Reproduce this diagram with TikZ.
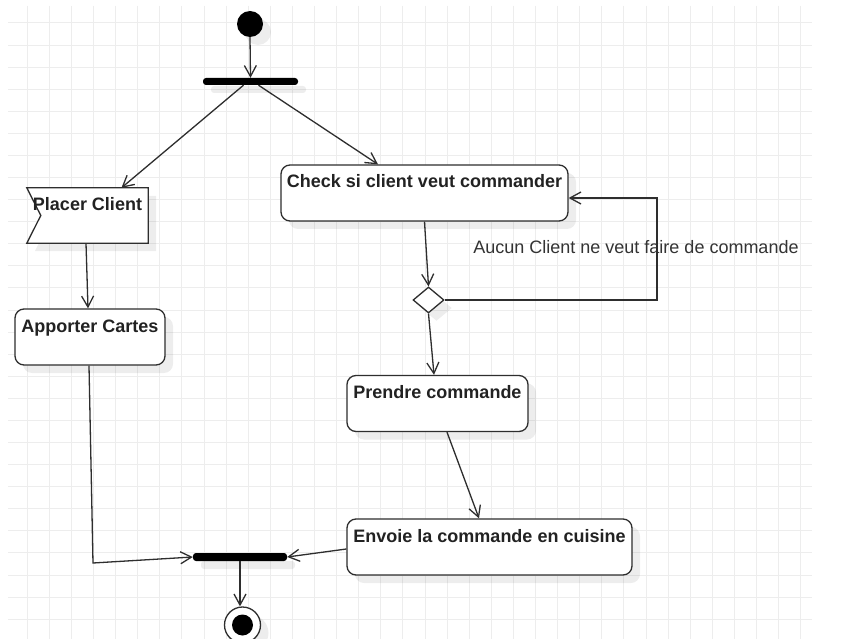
\documentclass[tikz,border=0pt]{standalone}
\usepackage{fontspec}
\setmainfont{Liberation Sans}
\usetikzlibrary{arrows.meta,shapes.geometric,shadows}
\definecolor{linec}{HTML}{2E2E2E}
\definecolor{gridc}{HTML}{EDEDED}
\definecolor{txtc}{HTML}{222222}
\definecolor{lblc}{HTML}{333333}
\pgfdeclarelayer{back}
\pgfsetlayers{back,main}
\begin{document}
\begin{tikzpicture}[x=1pt,y=-1pt,
  >={Straight Barb[length=11pt,width=12pt]},
  conn/.style={draw=linec, line width=1.3pt},
  gridline/.style={draw=gridc, line width=1pt},
  shad/.style={drop shadow={shadow xshift=8pt, shadow yshift=-8pt, fill=black, opacity=0.07}},
  boxfont/.style={font=\fontsize{18pt}{21pt}\selectfont\bfseries, text=txtc},
  act/.style={rectangle, draw=linec, line width=1.3pt, fill=white, rounded corners=9pt,
    inner sep=0pt, text height=23pt, text depth=33pt, boxfont, shad},
  sigtext/.style={rectangle, inner sep=0pt, text height=23pt, text depth=32pt, boxfont},
  bar/.style={rectangle, fill=black, inner sep=0pt, rounded corners=3pt, shad},
  lbl/.style={font=\fontsize{18pt}{21pt}\selectfont, text=lblc, inner sep=0pt}]
\useasboundingbox (0,0) rectangle (846,639);
\begin{pgfonlayer}{back}
  \fill[white] (0,0) rectangle (846,639);
  \foreach \k in {0,...,35} \draw[gridline] ({27.2+22.1*\k},6) -- ({27.2+22.1*\k},639);
  \foreach \k in {0,...,27} \draw[gridline] (8,{23+22.08*\k}) -- (812,{23+22.08*\k});
\end{pgfonlayer}

% nodes
\node[circle, fill=black, minimum size=26pt, inner sep=0pt, shad] (init) at (250,24) {};
\node[bar, minimum width=95pt, minimum height=7pt] (fork) at (250.5,81.5) {};
\node[sigtext, minimum width=121pt] (pc) at (87.5,215.5) {Placer Client};
\begin{pgfonlayer}{back}
  \fill[black, opacity=0.07] ([shift={(8pt,-8pt)}]pc.north west) -- ([shift={(8pt,-8pt)}]pc.north east)
     -- ([shift={(8pt,-8pt)}]pc.south east) -- ([shift={(8pt,-8pt)}]pc.south west)
     -- ([shift={(22pt,-8pt)}]pc.west) -- cycle;
  \filldraw[fill=white, draw=linec, line width=1.3pt, line join=miter]
     (pc.north west) -- (pc.north east) -- (pc.south east) -- (pc.south west)
     -- ([xshift=14pt]pc.west) -- cycle;
\end{pgfonlayer}
\node[act, minimum width=150pt] (ac) at (90,337) {Apporter Cartes};
\node[act, minimum width=287pt] (chk) at (424.5,193) {Check si client veut commander};
\node[diamond, draw=linec, line width=1.3pt, fill=white, minimum width=31pt, minimum height=26pt, inner sep=0pt, shad] (dia) at (428.5,300) {};
\node[act, minimum width=181pt] (pr) at (437.5,403.5) {Prendre commande};
\node[act, minimum width=285pt] (env) at (489.5,547) {Envoie la commande en cuisine};
\node[bar, minimum width=94pt, minimum height=8pt] (join) at (240,557) {};
\node[circle, draw=linec, line width=1.3pt, fill=white, minimum size=36pt, inner sep=0pt, shad] (fin) at (242.5,625) {};
\node[circle, fill=black, minimum size=21pt, inner sep=0pt] (fincore) at (fin.center) {};
\node[lbl, anchor=base] (cond) at (636,253) {Aucun Client ne veut faire de commande};

\coordinate (bend) at (93,563);
\coordinate (loop) at (657,198);

% connectors
\draw[conn,->] (init.south) -- (fork.north);
\draw[conn,->] ([xshift=-7pt]fork.south) -- ([xshift=34pt]pc.north);
\draw[conn,->] ([xshift=8pt]fork.south) -- ([xshift=-46.5pt]chk.north);
\draw[conn,->] ([xshift=-1.5pt]pc.south) -- ([xshift=-2pt]ac.north);
\draw[conn,->] ([xshift=-1pt]ac.south) -- (bend) -- (join.west);
\draw[conn,->] (chk.south) -- (dia.north);
\draw[conn,->] (dia.east) -- (dia.east -| loop) -- (loop) -- (chk.east |- loop);
\draw[conn,->] (dia.south) -- ([xshift=-3.5pt]pr.north);
\draw[conn,->] ([xshift=9.5pt]pr.south) -- ([xshift=-10.5pt]env.north);
\draw[conn,->] ([yshift=-2pt]env.west) -- (join.east);
\draw[conn,->] (join.south) -- (join.south |- fin.north);
\end{tikzpicture}
\end{document}
